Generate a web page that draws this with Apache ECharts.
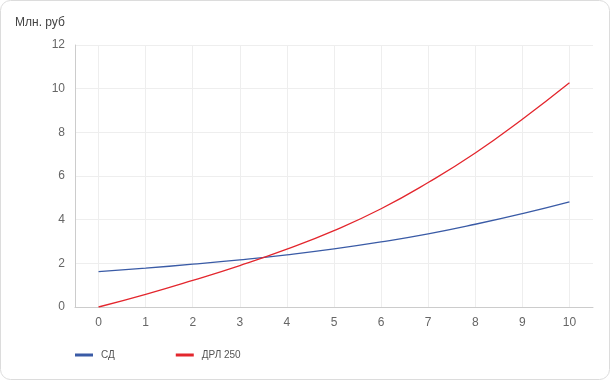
<!DOCTYPE html>
<html>
<head>
<meta charset="utf-8">
<script src="https://cdn.jsdelivr.net/npm/echarts@6/dist/echarts.min.js"></script>
<style>
html,body{margin:0;padding:0;background:#fff;}
#chart{width:610px;height:380px;}
</style>
</head>
<body>
<div id="chart"></div>
<script>
var years = [0, 1, 2, 3, 4, 5, 6, 7, 8, 9, 10];
var sdValues = [1.62, 1.78, 1.96, 2.16, 2.39, 2.66, 2.98, 3.35, 3.79, 4.28, 4.82];
var drlValues = [0, 0.58, 1.22, 1.90, 2.65, 3.50, 4.50, 5.70, 7.05, 8.60, 10.27];
var yTicks = [0, 2, 4, 6, 8, 10, 12];
var seriesNames = ['СД', 'ДРЛ 250'];
var unitLabel = 'Млн. руб';

function pairs(vals) { return years.map(function (x, i) { return [x, vals[i]]; }); }

var chart = echarts.init(document.getElementById('chart'), null, {renderer: 'canvas'});
chart.setOption({
  animation: false,
  textStyle: {fontFamily: 'Arial, "Liberation Sans", sans-serif'},
  graphic: [{
    type: 'rect', silent: true, z: -10,
    shape: {x: 0.5, y: 0.5, width: 609, height: 379, r: 10},
    style: {fill: '#fff', stroke: '#dcdcdc', lineWidth: 1}
  }],
  title: {
    text: unitLabel, left: 10, top: 12,
    textStyle: {fontSize: 12, fontWeight: 'normal', color: '#444'}
  },
  legend: {
    left: 70, top: 345,
    icon: 'rect', itemWidth: 18, itemHeight: 3, itemGap: 61,
    textStyle: {fontSize: 10, color: '#555', padding: [0, 0, 0, 3]},
    data: seriesNames
  },
  grid: {left: 75, right: 17, top: 45, bottom: 73},
  xAxis: {
    type: 'value', min: -0.5, max: 10.5,
    axisLine: {show: true, onZero: false, lineStyle: {color: '#ccc'}},
    axisTick: {show: false, customValues: years},
    axisLabel: {customValues: years, color: '#666', fontSize: 12, margin: 10},
    splitLine: {show: true, lineStyle: {color: '#eee'}}
  },
  yAxis: {
    type: 'value', min: yTicks[0], max: yTicks[yTicks.length - 1], interval: 2,
    axisLine: {show: true, onZero: false, lineStyle: {color: '#ccc'}},
    axisTick: {show: false},
    axisLabel: {color: '#666', fontSize: 12, margin: 10},
    splitLine: {show: true, lineStyle: {color: '#eee'}}
  },
  series: [{
    name: seriesNames[0], type: 'line', smooth: true, showSymbol: false,
    data: pairs(sdValues),
    lineStyle: {color: '#3a5ba6', width: 1.3},
    itemStyle: {color: '#3a5ba6'}
  }, {
    name: seriesNames[1], type: 'line', smooth: true, showSymbol: false,
    data: pairs(drlValues),
    lineStyle: {color: '#e3262d', width: 1.3},
    itemStyle: {color: '#e3262d'}
  }]
});
</script>
</body>
</html>
